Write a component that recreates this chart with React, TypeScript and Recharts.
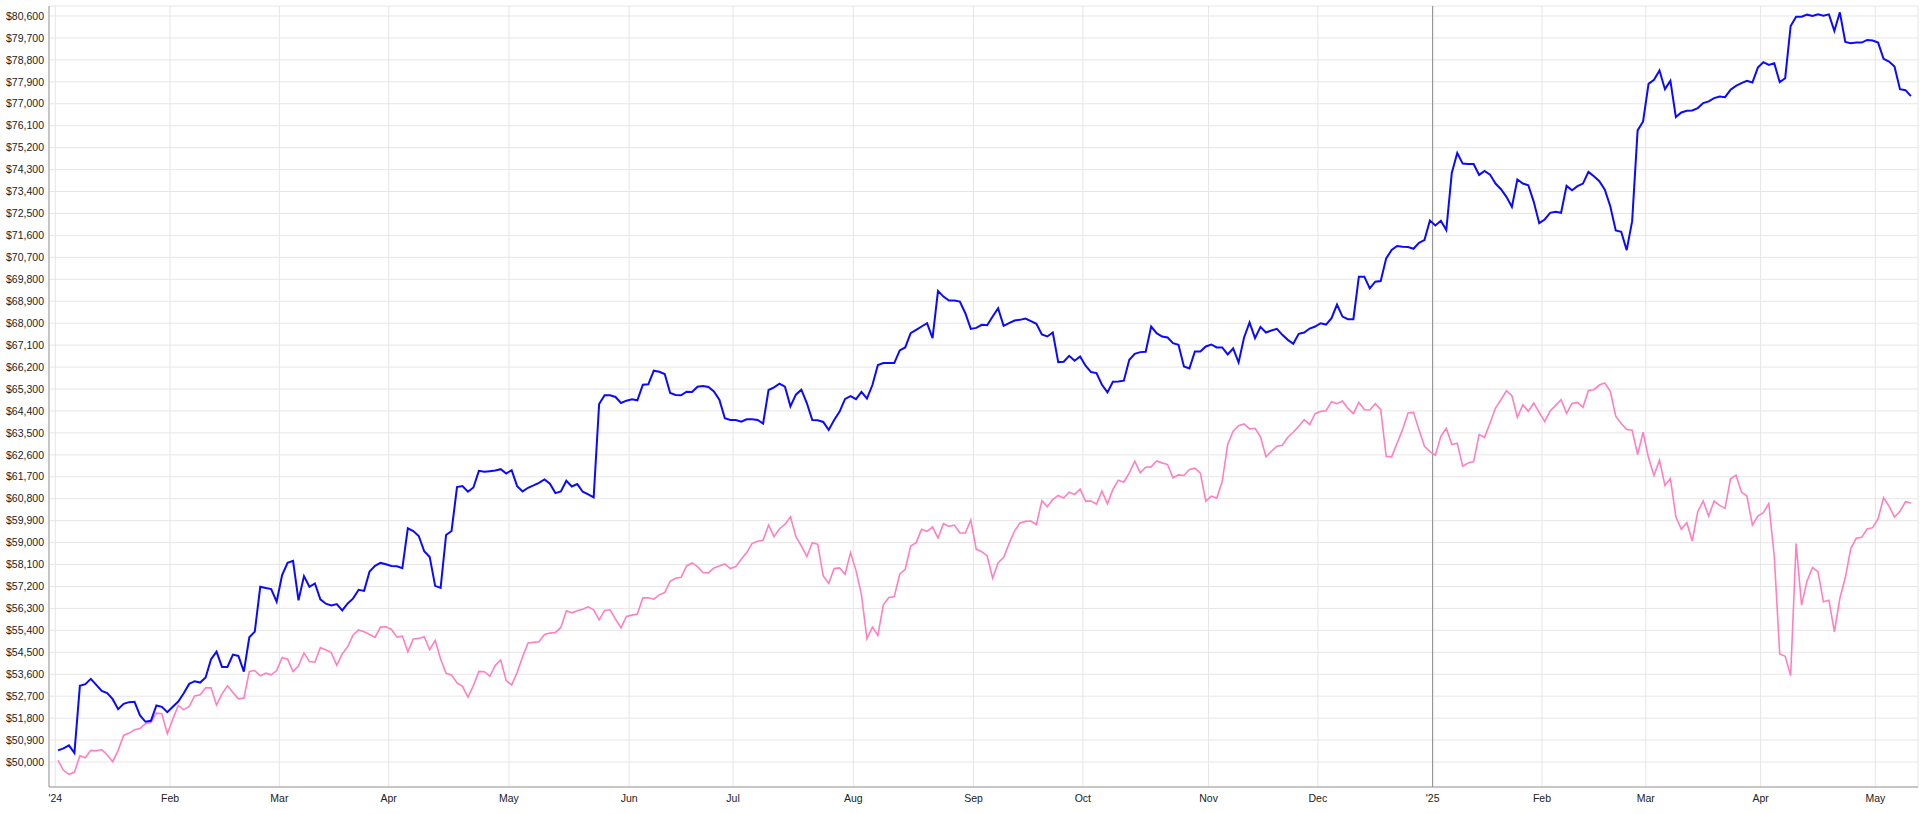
import React from 'react';
import { LineChart, Line, XAxis, YAxis, CartesianGrid, ReferenceLine } from 'recharts';

// Trading-day series (Jan 2 2024 .. May 9 2025), one value per trading day
const portfolio = [
  50477, 50559, 50682, 50368, 53124, 53192, 53410, 53164, 52919, 52823,
  52578, 52169, 52387, 52455, 52469, 51910, 51650, 51691, 52319, 52264,
  52046, 52264, 52482, 52823, 53205, 53315, 53260, 53465, 54215, 54528,
  53901, 53901, 54406, 54351, 53710, 55115, 55347, 57188, 57134, 57093,
  56574, 57666, 58170, 58252, 56629, 57625, 57188, 57325, 56670, 56493,
  56424, 56479, 56220, 56506, 56711, 57066, 57020, 57811, 58043, 58166,
  58111, 58043, 58030, 57948, 59585, 59476, 59271, 58643, 58412, 57225,
  57143, 59312, 59476, 61276, 61317, 61085, 61262, 61944, 61903, 61930,
  61958, 62012, 61835, 61972, 61317, 61099, 61249, 61344, 61453, 61590,
  61412, 61030, 61099, 61535, 61303, 61399, 61085, 60976, 60853, 64686,
  65041, 65041, 64972, 64727, 64822, 64877, 64836, 65477, 65491, 66050,
  66009, 65913, 65135, 65054, 65040, 65190, 65176, 65395, 65422, 65381,
  65204, 64863, 64099, 64030, 64030, 63962, 64058, 64058, 64030, 63880,
  65258, 65367, 65517, 65395, 64590, 65067, 65272, 64726, 64030, 64017,
  63949, 63621, 64030, 64376, 64895, 65004, 64881, 65181, 64908, 65463,
  66282, 66363, 66363, 66363, 66881, 67004, 67591, 67727, 67863, 68000,
  67386, 69323, 69091, 68927, 68927, 68886, 68408, 67767, 67808, 67931,
  67917, 68272, 68613, 67890, 67999, 68108, 68136, 68190, 68081, 67972,
  67536, 67454, 67617, 66403, 66417, 66662, 66458, 66635, 66253, 65994,
  65953, 65476, 65162, 65599, 65612, 65640, 66499, 66744, 66813, 66826,
  67863, 67590, 67454, 67413, 67181, 67113, 66226, 66144, 66840, 66840,
  67044, 67126, 67004, 67004, 66717, 66963, 66390, 67413, 68027, 67385,
  67849, 67616, 67698, 67766, 67521, 67316, 67152, 67562, 67616, 67780,
  67862, 67998, 67944, 68203, 68762, 68271, 68162, 68162, 69908, 69908,
  69430, 69703, 69730, 70658, 70999, 71163, 71135, 71122, 71053, 71299,
  71408, 72213, 72008, 72199, 71817, 74163, 74982, 74545, 74532, 74532,
  74082, 74245, 74095, 73727, 73495, 73181, 72772, 73891, 73727, 73659,
  72977, 72104, 72254, 72527, 72567, 72527, 73631, 73454, 73618, 73727,
  74204, 74026, 73821, 73480, 72798, 71802, 71748, 70997, 72184, 75908,
  76276, 77817, 77981, 78363, 77599, 77940, 76453, 76644, 76713, 76726,
  76822, 77026, 77095, 77231, 77299, 77272, 77572, 77736, 77845, 77940,
  77872, 78486, 78704, 78595, 78663, 77886, 78049, 80191, 80573, 80573,
  80655, 80600, 80668, 80614, 80668, 79986, 80750, 79536, 79482, 79509,
  79509, 79618, 79591, 79509, 78840, 78731, 78527, 77599, 77558, 77313,
];

const benchmark = [
  50068, 49659, 49495, 49577, 50259, 50177, 50477, 50464, 50505, 50286,
  50014, 50477, 51091, 51187, 51323, 51378, 51569, 51623, 52005, 51978,
  51159, 51760, 52319, 52141, 52278, 52714, 52755, 53042, 53042, 52332,
  52796, 53124, 52851, 52592, 52619, 53710, 53751, 53533, 53642, 53574,
  53751, 54283, 54215, 53710, 53942, 54474, 54119, 54092, 54692, 54597,
  54488, 53969, 54433, 54733, 55210, 55415, 55343, 55233, 55111, 55534,
  55547, 55438, 55124, 55165, 54524, 55043, 55070, 55138, 54606, 54988,
  54224, 53638, 53569, 53242, 53106, 52656, 53133, 53719, 53706, 53515,
  53965, 54183, 53338, 53160, 53678, 54320, 54879, 54906, 54933, 55233,
  55288, 55315, 55520, 56202, 56120, 56202, 56270, 56366, 56243, 55834,
  56216, 56243, 55861, 55506, 55970, 56025, 56066, 56734, 56734, 56679,
  56857, 56951, 57415, 57538, 57579, 58043, 58165, 58015, 57770, 57756,
  57961, 58043, 58124, 57933, 58015, 58316, 58589, 58971, 59053, 59094,
  59720, 59243, 59570, 59748, 60061, 59243, 58861, 58424, 58997, 58929,
  57633, 57333, 57933, 57961, 57702, 58588, 57852, 56856, 55056, 55534,
  55193, 56447, 56747, 56788, 57702, 57906, 58861, 58997, 59543, 59461,
  59638, 59188, 59775, 59666, 59720, 59393, 59393, 59924, 58724, 58629,
  58451, 57537, 58178, 58383, 58956, 59474, 59802, 59870, 59884, 59733,
  60716, 60470, 60770, 60934, 60825, 61070, 60975, 61193, 60702, 60702,
  60579, 61111, 60593, 61179, 61561, 61479, 61861, 62339, 61861, 62093,
  62107, 62352, 62270, 62202, 61657, 61779, 61752, 61998, 62052, 61848,
  60702, 60907, 60825, 61507, 63021, 63566, 63798, 63866, 63662, 63689,
  63340, 62520, 62747, 62951, 62992, 63320, 63524, 63770, 64042, 63838,
  64288, 64383, 64411, 64779, 64697, 64806, 64506, 64288, 64752, 64452,
  64438, 64697, 64452, 62542, 62515, 63088, 63633, 64315, 64343, 63633,
  62951, 62733, 62583, 63360, 63688, 63019, 63074, 62133, 62269, 62324,
  63429, 63320, 63906, 64520, 64861, 65229, 65025, 64138, 64656, 64383,
  64724, 64343, 63961, 64397, 64629, 64861, 64302, 64711, 64752, 64547,
  65243, 65272, 65463, 65545, 65204, 64181, 63881, 63636, 63608, 62613,
  63527, 62476, 61753, 62381, 61344, 61631, 60062, 59544, 59816, 59066,
  60267, 60703, 60089, 60703, 60526, 60403, 61617, 61767, 61071, 60908,
  59721, 60089, 60226, 60608, 58452, 54429, 54333, 53542, 58957, 56434,
  57429, 57975, 57811, 56570, 56638, 55343, 56707, 57566, 58753, 59175,
  59216, 59557, 59612, 59980, 60839, 60498, 60048, 60280, 60676, 60621,
];

// Month boundaries on the trading-day index, and their labels
const monthTickPositions = [
  -0.5, 20.5, 40.5, 60.5, 82.5, 104.5, 123.5, 145.5, 167.5, 187.5, 210.5, 230.5,
  251.5, 271.5, 290.5, 311.5, 332.5,
];
const monthTickLabels = [
  "'24", 'Feb', 'Mar', 'Apr', 'May', 'Jun', 'Jul', 'Aug', 'Sep', 'Oct', 'Nov', 'Dec',
  "'25", 'Feb', 'Mar', 'Apr', 'May',
];
const yearBoundary = 251.5;

const yTicks = [
  50000, 50900, 51800, 52700, 53600, 54500, 55400, 56300, 57200, 58100, 59000, 59900,
  60800, 61700, 62600, 63500, 64400, 65300, 66200, 67100, 68000, 68900, 69800, 70700,
  71600, 72500, 73400, 74300, 75200, 76100, 77000, 77900, 78800, 79700, 80600,
];

const data = portfolio.map((v, i) => ({ i, portfolio: v, benchmark: benchmark[i] }));

const font = 'Arial, "Liberation Sans", sans-serif';

export default function App() {
  return (
    <div style={{ position: 'absolute', left: 0, top: 0, width: 1920, height: 814, background: '#fff' }}>
      <LineChart width={1920} height={814} data={data} margin={{ top: 6, right: 2, bottom: 0, left: 0 }}>
        <CartesianGrid stroke="#e6e6e6" strokeWidth={1} />
        <XAxis
          type="number"
          dataKey="i"
          domain={[-1.65, 340.3]}
          allowDataOverflow
          ticks={monthTickPositions}
          interval={0}
          tickFormatter={(v: number) => monthTickLabels[monthTickPositions.indexOf(v)] ?? ''}
          height={27}
          tickSize={0}
          tickMargin={8}
          stroke="#999"
          tick={{ fill: '#222', fontSize: 10.5, fontFamily: font }}
        />
        <YAxis
          type="number"
          domain={[48975, 81010]}
          allowDataOverflow
          ticks={yTicks}
          interval={0}
          width={49}
          tickSize={0}
          tickMargin={5}
          stroke="#999"
          tick={{ fill: '#222', fontSize: 10.5, fontFamily: font }}
          tickFormatter={(v: number) => '$' + v.toLocaleString('en-US')}
        />
        <ReferenceLine x={yearBoundary} stroke="#8a8a8a" strokeWidth={1} />
        <Line
          type="linear"
          dataKey="benchmark"
          stroke="#ff80c0"
          strokeWidth={1.6}
          dot={false}
          isAnimationActive={false}
        />
        <Line
          type="linear"
          dataKey="portfolio"
          stroke="#0a0aff"
          strokeWidth={2}
          dot={false}
          isAnimationActive={false}
        />
      </LineChart>
    </div>
  );
}
